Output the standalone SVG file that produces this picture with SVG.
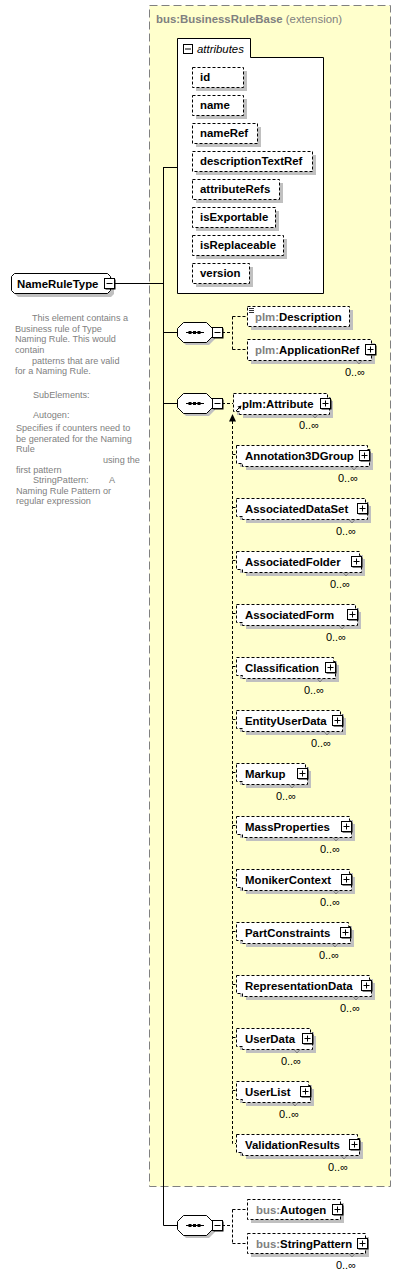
<svg xmlns="http://www.w3.org/2000/svg" width="402" height="1278" viewBox="0 0 402 1278">
<style>
.yb{fill:#ffffcc;stroke:#808080;stroke-dasharray:8,4}
.sh{fill:#c0c0c0}
.db{fill:#fff;stroke:#000;stroke-dasharray:3,2}
.sb{fill:#fff;stroke:#000}
.t{font:bold 11.4px "Liberation Sans",Arial,sans-serif;fill:#000}
.g{fill:#808080}
.n{font-weight:normal}
.d{font:9.1px "Liberation Sans",Arial,sans-serif;fill:#808080}
.m{font:11px "Liberation Sans",Arial,sans-serif;fill:#000;text-anchor:end}
.it{font:italic 11.4px "Liberation Sans",Arial,sans-serif;fill:#000}
.ln{stroke:#000;fill:none}
.dl{stroke:#000;fill:none;stroke-dasharray:3,2}
.nt{stroke:#707070;fill:none;stroke-width:0.8}
</style>
<defs>
<g id="plus">
<rect x="1.5" y="1.5" width="10" height="10" fill="#000"/>
<rect x="0.5" y="0.5" width="10" height="10" fill="#fff" stroke="#000"/>
<path d="M2.5,5.5H8.5M5.5,2.5V8.5" stroke="#000"/>
</g>
<g id="minus">
<rect x="1.5" y="1.5" width="10" height="10" fill="#000"/>
<rect x="0.5" y="0.5" width="10" height="10" fill="#fff" stroke="#000"/>
<path d="M2.5,5.5H8.5" stroke="#000"/>
</g>
<g id="seq">
<path class="sh" d="M9,3H32L38,9V17L32,23H9L3,17V9Z"/>
<path class="sb" d="M6.5,0.5H29.5L35.5,6.5V14.5L29.5,20.5H6.5L0.5,14.5V6.5Z"/>
<path d="M9,10.5H27" stroke="#000"/>
<rect x="11.5" y="9" width="3" height="3" fill="#000"/>
<rect x="16" y="9" width="3" height="3" fill="#000"/>
<rect x="20.5" y="9" width="3" height="3" fill="#000"/>
<use href="#minus" x="35" y="5"/>
</g>
</defs>

<rect class="yb" x="149.5" y="5.5" width="241" height="1181"/>
<text class="t g" x="156" y="23">bus:BusinessRuleBase<tspan class="n"> (extension)</tspan></text>

<g id="connectors">
<path class="ln" d="M115,283.5H163.5M163.5,167.5H177M163.5,167V1225.5M163.5,332.5H177M163.5,403.5H177M163.5,1225.5H177"/>
<path class="dl" d="M222,332.5H232.5M232.5,316.5V349.5M232.5,316.5H247M232.5,349.5H247"/>
<path class="dl" d="M222,403.5H233"/>
<path class="dl" d="M232.5,421V1143.5H236"/>
<path class="dl" d="M232.5,454.5H236M232.5,507.5H236M232.5,560.5H236M232.5,613.5H236M232.5,666.5H236M232.5,719.5H236M232.5,772.5H236M232.5,825.5H236M232.5,878.5H236M232.5,931.5H236M232.5,984.5H236M232.5,1037.5H236M232.5,1090.5H236"/>
<polygon points="232.5,414 229,421.5 236,421.5" fill="#000"/>
<path class="dl" d="M222,1225.5H232.5M232.5,1209.5V1243.5M232.5,1209.5H247M232.5,1243.5H247"/>
</g>

<g id="NameRuleType">
<path class="sh" d="M18,277H111L114,280V294L111,297H18L15,294V280Z"/>
<path class="sb" d="M14.5,273.5H107.5L110.5,276.5V290.5L107.5,293.5H14.5L11.5,290.5V276.5Z"/>
<text class="t" x="17" y="287.5">NameRuleType</text>
<use href="#minus" x="104" y="278"/>
</g>

<g id="NameRuleType-doc">
<text class="d" x="32" y="321">This element contains a</text>
<text class="d" x="15" y="331.5">Business rule of Type</text>
<text class="d" x="15" y="342">Naming Rule. This would</text>
<text class="d" x="15" y="352.5">contain</text>
<text class="d" x="32" y="363.5">patterns that are valid</text>
<text class="d" x="15" y="374">for a Naming Rule.</text>
<text class="d" x="33" y="397.5">SubElements:</text>
<text class="d" x="33" y="417.5">Autogen:</text>
<text class="d" x="16" y="430.5">Specifies if counters need to</text>
<text class="d" x="16" y="441.5">be generated for the Naming</text>
<text class="d" x="16" y="451.5">Rule</text>
<text class="d" x="103" y="462.5">using the</text>
<text class="d" x="16" y="472.5">first pattern</text>
<text class="d" x="33" y="482.5">StringPattern:</text>
<text class="d" x="109" y="482.5">A</text>
<text class="d" x="16" y="493.5">Naming Rule Pattern or</text>
<text class="d" x="16" y="503.5">regular expression</text>
</g>

<g id="attributes">
<path class="sb" d="M177.5,38.5H250.5V57.5H323.5V293.5H177.5Z"/>
<rect x="183.5" y="44.5" width="9" height="9" fill="#fff" stroke="#000"/>
<path d="M185,49H191" stroke="#000"/>
<text class="it" x="197" y="53">attributes</text>
</g>

<g id="attr-id"><rect class="sh" x="196" y="71" width="51" height="20"/><rect class="db" x="192.5" y="67.5" width="51" height="20"/><text class="t" x="200" y="81">id</text></g>
<g id="attr-name"><rect class="sh" x="196" y="99" width="51" height="20"/><rect class="db" x="192.5" y="95.5" width="51" height="20"/><text class="t" x="200" y="109">name</text></g>
<g id="attr-nameRef"><rect class="sh" x="196" y="127" width="65" height="20"/><rect class="db" x="192.5" y="123.5" width="65" height="20"/><text class="t" x="200" y="137">nameRef</text></g>
<g id="attr-descriptionTextRef"><rect class="sh" x="196" y="155" width="120" height="20"/><rect class="db" x="192.5" y="151.5" width="120" height="20"/><text class="t" x="200" y="165">descriptionTextRef</text></g>
<g id="attr-attributeRefs"><rect class="sh" x="196" y="183" width="87" height="20"/><rect class="db" x="192.5" y="179.5" width="87" height="20"/><text class="t" x="200" y="193">attributeRefs</text></g>
<g id="attr-isExportable"><rect class="sh" x="196" y="211" width="83" height="20"/><rect class="db" x="192.5" y="207.5" width="83" height="20"/><text class="t" x="200" y="221">isExportable</text></g>
<g id="attr-isReplaceable"><rect class="sh" x="196" y="239" width="91" height="20"/><rect class="db" x="192.5" y="235.5" width="91" height="20"/><text class="t" x="200" y="249">isReplaceable</text></g>
<g id="attr-version"><rect class="sh" x="196" y="267" width="57" height="20"/><rect class="db" x="192.5" y="263.5" width="57" height="20"/><text class="t" x="200" y="277">version</text></g>

<g id="sequence1"><use href="#seq" x="177" y="322"/></g>
<g id="sequence2"><use href="#seq" x="177" y="393"/></g>
<g id="sequence3"><use href="#seq" x="177" y="1215"/></g>

<g id="plm-Description">
<rect class="sh" x="251" y="310" width="102" height="20"/>
<rect class="db" x="247.5" y="306.5" width="102" height="20"/>
<path d="M249,308.5H254M249,310.5H254M249,312.5H254" stroke="#000" stroke-width="0.8"/>
<text class="t" x="255" y="320.5"><tspan class="g">plm:</tspan>Description</text>
</g>

<g id="plm-ApplicationRef">
<rect class="sh" x="251" y="343" width="124" height="21"/>
<rect class="db" x="247.5" y="339.5" width="124" height="21"/>
<text class="t" x="255" y="354"><tspan class="g">plm:</tspan>ApplicationRef</text>
<use href="#plus" x="365" y="344"/>
<path class="nt" d="M356,360.5L359,364L362,360.5"/>
<text class="m" x="365" y="376">0..∞</text>
</g>

<g id="plm-Attribute">
<path class="sh" d="M237,397H331V401H333V418H243V415H237Z"/>
<path class="db" d="M233.5,393.5H327.5V397.5H329.5V414.5H239.5V411.5H233.5Z"/>
<path d="M236,411L240.5,406.5" stroke="#000"/>
<polygon points="241.5,405.5 237.5,406.5 240.5,409.5" fill="#000"/>
<text class="t" x="242" y="407.5">plm:Attribute</text>
<use href="#plus" x="320" y="398"/>
<path class="nt" d="M312,414.5L315,418L318,414.5"/>
<text class="m" x="319" y="429">0..∞</text>
</g>

<g id="Annotation3DGroup">
<path class="sh" d="M240,449H371V453H373V470H246V467H240Z"/>
<path class="db" d="M236.5,445.5H367.5V449.5H369.5V466.5H242.5V463.5H236.5Z"/>
<text class="t" x="245" y="459.5">Annotation3DGroup</text>
<use href="#plus" x="359" y="450"/>
<path class="nt" d="M351,466.5L354,470L357,466.5"/>
<text class="m" x="358" y="482">0..∞</text>
</g>

<g id="AssociatedDataSet">
<path class="sh" d="M240,502H369V506H371V523H246V520H240Z"/>
<path class="db" d="M236.5,498.5H365.5V502.5H367.5V519.5H242.5V516.5H236.5Z"/>
<text class="t" x="245" y="512.5">AssociatedDataSet</text>
<use href="#plus" x="357" y="503"/>
<path class="nt" d="M349,519.5L352,523L355,519.5"/>
<text class="m" x="356" y="535">0..∞</text>
</g>

<g id="AssociatedFolder">
<path class="sh" d="M240,555H363V559H365V576H246V573H240Z"/>
<path class="db" d="M236.5,551.5H359.5V555.5H361.5V572.5H242.5V569.5H236.5Z"/>
<text class="t" x="245" y="565.5">AssociatedFolder</text>
<use href="#plus" x="351" y="556"/>
<path class="nt" d="M343,572.5L346,576L349,572.5"/>
<text class="m" x="350" y="588">0..∞</text>
</g>

<g id="AssociatedForm">
<path class="sh" d="M240,608H359V612H361V629H246V626H240Z"/>
<path class="db" d="M236.5,604.5H355.5V608.5H357.5V625.5H242.5V622.5H236.5Z"/>
<text class="t" x="245" y="618.5">AssociatedForm</text>
<use href="#plus" x="347" y="609"/>
<path class="nt" d="M339,625.5L342,629L345,625.5"/>
<text class="m" x="346" y="641">0..∞</text>
</g>

<g id="Classification">
<path class="sh" d="M240,661H337V665H339V682H246V679H240Z"/>
<path class="db" d="M236.5,657.5H333.5V661.5H335.5V678.5H242.5V675.5H236.5Z"/>
<text class="t" x="245" y="671.5">Classification</text>
<use href="#plus" x="325" y="662"/>
<path class="nt" d="M317,678.5L320,682L323,678.5"/>
<text class="m" x="324" y="694">0..∞</text>
</g>

<g id="EntityUserData">
<path class="sh" d="M240,714H344V718H346V735H246V732H240Z"/>
<path class="db" d="M236.5,710.5H340.5V714.5H342.5V731.5H242.5V728.5H236.5Z"/>
<text class="t" x="245" y="724.5">EntityUserData</text>
<use href="#plus" x="332" y="715"/>
<path class="nt" d="M324,731.5L327,735L330,731.5"/>
<text class="m" x="331" y="747">0..∞</text>
</g>

<g id="Markup">
<path class="sh" d="M240,767H309V771H311V788H246V785H240Z"/>
<path class="db" d="M236.5,763.5H305.5V767.5H307.5V784.5H242.5V781.5H236.5Z"/>
<text class="t" x="245" y="777.5">Markup</text>
<use href="#plus" x="297" y="768"/>
<path class="nt" d="M289,784.5L292,788L295,784.5"/>
<text class="m" x="296" y="800">0..∞</text>
</g>

<g id="MassProperties">
<path class="sh" d="M240,820H353V824H355V841H246V838H240Z"/>
<path class="db" d="M236.5,816.5H349.5V820.5H351.5V837.5H242.5V834.5H236.5Z"/>
<text class="t" x="245" y="830.5">MassProperties</text>
<use href="#plus" x="341" y="821"/>
<path class="nt" d="M333,837.5L336,841L339,837.5"/>
<text class="m" x="340" y="853">0..∞</text>
</g>

<g id="MonikerContext">
<path class="sh" d="M240,873H353V877H355V894H246V891H240Z"/>
<path class="db" d="M236.5,869.5H349.5V873.5H351.5V890.5H242.5V887.5H236.5Z"/>
<text class="t" x="245" y="883.5">MonikerContext</text>
<use href="#plus" x="341" y="874"/>
<path class="nt" d="M333,890.5L336,894L339,890.5"/>
<text class="m" x="340" y="906">0..∞</text>
</g>

<g id="PartConstraints">
<path class="sh" d="M240,926H352V930H354V947H246V944H240Z"/>
<path class="db" d="M236.5,922.5H348.5V926.5H350.5V943.5H242.5V940.5H236.5Z"/>
<text class="t" x="245" y="936.5">PartConstraints</text>
<use href="#plus" x="340" y="927"/>
<path class="nt" d="M332,943.5L335,947L338,943.5"/>
<text class="m" x="339" y="959">0..∞</text>
</g>

<g id="RepresentationData">
<path class="sh" d="M240,979H373V983H375V1000H246V997H240Z"/>
<path class="db" d="M236.5,975.5H369.5V979.5H371.5V996.5H242.5V993.5H236.5Z"/>
<text class="t" x="245" y="989.5">RepresentationData</text>
<use href="#plus" x="361" y="980"/>
<path class="nt" d="M353,996.5L356,1000L359,996.5"/>
<text class="m" x="360" y="1012">0..∞</text>
</g>

<g id="UserData">
<path class="sh" d="M240,1032H314V1036H316V1053H246V1050H240Z"/>
<path class="db" d="M236.5,1028.5H310.5V1032.5H312.5V1049.5H242.5V1046.5H236.5Z"/>
<text class="t" x="245" y="1042.5">UserData</text>
<use href="#plus" x="302" y="1033"/>
<path class="nt" d="M294,1049.5L297,1053L300,1049.5"/>
<text class="m" x="301" y="1065">0..∞</text>
</g>

<g id="UserList">
<path class="sh" d="M240,1085H312V1089H314V1106H246V1103H240Z"/>
<path class="db" d="M236.5,1081.5H308.5V1085.5H310.5V1102.5H242.5V1099.5H236.5Z"/>
<text class="t" x="245" y="1095.5">UserList</text>
<use href="#plus" x="300" y="1086"/>
<path class="nt" d="M292,1102.5L295,1106L298,1102.5"/>
<text class="m" x="299" y="1118">0..∞</text>
</g>

<g id="ValidationResults">
<path class="sh" d="M240,1138H361V1142H363V1159H246V1156H240Z"/>
<path class="db" d="M236.5,1134.5H357.5V1138.5H359.5V1155.5H242.5V1152.5H236.5Z"/>
<text class="t" x="245" y="1148.5">ValidationResults</text>
<use href="#plus" x="349" y="1139"/>
<path class="nt" d="M341,1155.5L344,1159L347,1155.5"/>
<text class="m" x="348" y="1171">0..∞</text>
</g>

<g id="bus-Autogen">
<rect class="sh" x="251" y="1203" width="93" height="20"/>
<rect class="db" x="247.5" y="1199.5" width="93" height="20"/>
<text class="t" x="256" y="1213.5"><tspan class="g">bus:</tspan>Autogen</text>
<use href="#plus" x="332" y="1204"/>
</g>

<g id="bus-StringPattern">
<rect class="sh" x="251" y="1237" width="118" height="20"/>
<rect class="db" x="247.5" y="1233.5" width="118" height="20"/>
<text class="t" x="256" y="1247.5"><tspan class="g">bus:</tspan>StringPattern</text>
<use href="#plus" x="357" y="1238"/>
<path class="nt" d="M349,1253.5L352,1257L355,1253.5"/>
<text class="m" x="356" y="1269">0..∞</text>
</g>
</svg>
